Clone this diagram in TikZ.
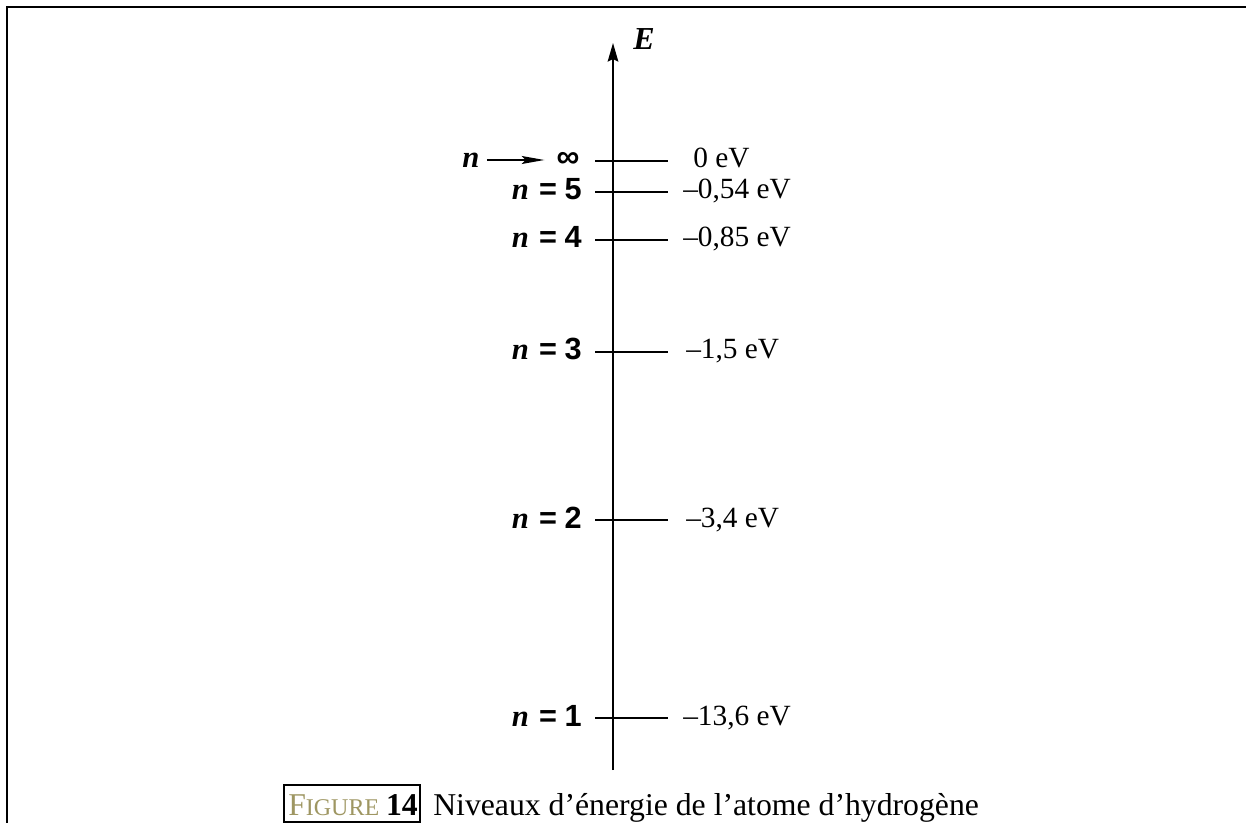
\documentclass[tikz,border=0pt]{standalone}
\usepackage{fontspec}
\setmainfont{Liberation Serif}
\newfontfamily\labsans{Liberation Sans}
\usetikzlibrary{arrows.meta,calc}
\definecolor{figgold}{RGB}{158,150,98}
\begin{document}
\begin{tikzpicture}[x=0.75pt,y=-0.75pt,
  frame/.style={line width=1.6pt},
  level/.style={line width=1.4pt},
  axisline/.style={line width=1.3pt,-{Stealth[length=14pt,width=8pt,inset=2pt]}},
  energy/.style={anchor=base west,inner sep=0pt,font=\fontsize{22}{24}\selectfont},
  qn/.style={anchor=base east,inner sep=0pt,font=\fontsize{23}{24}\selectfont},
  capbox/.style={draw,line width=1.5pt,inner sep=0pt},
  captext/.style={anchor=base west,inner sep=0pt,font=\fontsize{23.8}{28}\selectfont}]
\useasboundingbox (0,0) rectangle (1246,823);
% frame
\coordinate (fr) at (1246,7);
\coordinate (fc) at (7,7);
\coordinate (fb) at (7,823);
\draw[frame] (fr) -- (fc) -- (fb);
% axis
\coordinate (axbot) at (613,770);
\coordinate (axtop) at (613,43);
\draw[axisline] (axbot) -- (axtop);
\node[inner sep=0pt,font=\fontsize{24}{26}\selectfont\bfseries\itshape] (E) at (644,39) {E};
% levels
\foreach \nm/\y in {inf/161,l5/192,l4/240,l3/352,l2/520,l1/718}{
  \coordinate (\nm a) at (595,\y);
  \coordinate (\nm b) at (668,\y);
  \draw[level] (\nm a) -- (\nm b);
}
% energy labels
\node[energy] (e0) at (693,168) {0 eV};
\node[energy] (e5) at (683,199) {–0,54 eV};
\node[energy] (e4) at (683,247) {–0,85 eV};
\node[energy] (e3) at (686,359) {–1,5 eV};
\node[energy] (e2) at (686,527) {–3,4 eV};
\node[energy] (e1) at (683,725) {–13,6 eV};
% quantum number labels
\node[qn] (q5) at (582,200) {{\bfseries\itshape n}\hspace{0.33em}{\labsans\bfseries =\hspace{0.25em}5}};
\node[qn] (q4) at (582,248) {{\bfseries\itshape n}\hspace{0.33em}{\labsans\bfseries =\hspace{0.25em}4}};
\node[qn] (q3) at (582,360) {{\bfseries\itshape n}\hspace{0.33em}{\labsans\bfseries =\hspace{0.25em}3}};
\node[qn] (q2) at (582,528) {{\bfseries\itshape n}\hspace{0.33em}{\labsans\bfseries =\hspace{0.25em}2}};
\node[qn] (q1) at (582,726) {{\bfseries\itshape n}\hspace{0.33em}{\labsans\bfseries =\hspace{0.25em}1}};
% n -> infinity
\node[anchor=base,inner sep=0pt,font=\fontsize{23}{24}\selectfont\bfseries\itshape] (ninf) at (471,168) {n};
\node[inner sep=0pt,font=\fontsize{24}{24}\selectfont\labsans\bfseries] (infty) at (568,160) {∞};
\coordinate (arA) at ($(ninf.east)+(7,0)$);
\coordinate (arB) at ($(infty.west)+(-12,0)$);
\draw[line width=1.2pt,-{Stealth[length=17pt,width=6pt,inset=3pt]}] (arA |- infty) -- (arB);
% caption
\node[capbox,anchor=south east,minimum width=136*0.75pt,minimum height=37*0.75pt] (cbox) at (421,823) {};
\node[captext] (figw) at (288,815) {\textcolor{figgold}{F{\fontsize{18}{20}\selectfont IGURE}}};
\node[captext,anchor=base east] (fignum) at (418,815) {\textbf{14}};
\node[captext] (cap) at (433,815) {Niveaux d’énergie de l’atome d’hydrogène};
\end{tikzpicture}
\end{document}
